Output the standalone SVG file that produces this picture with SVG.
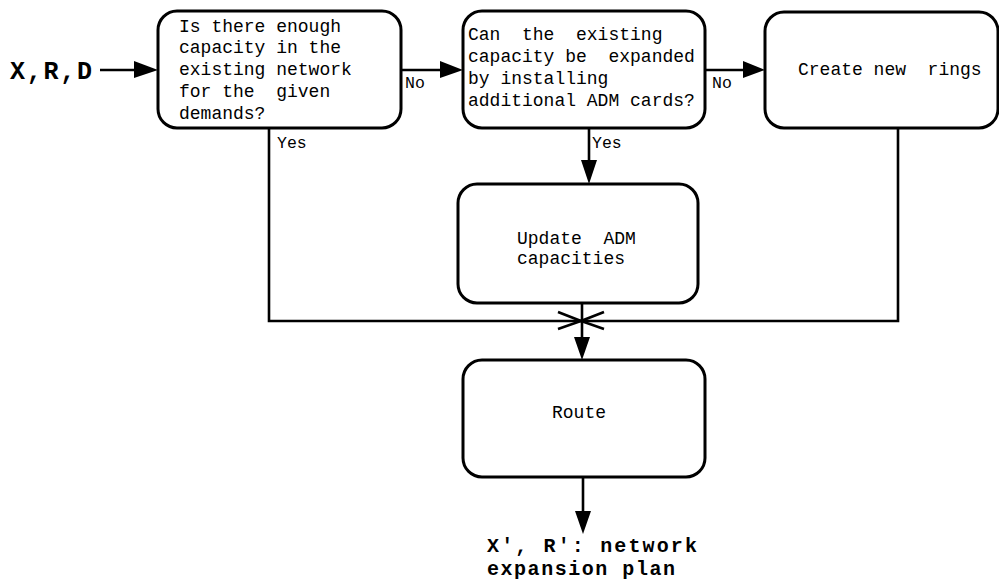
<svg xmlns="http://www.w3.org/2000/svg" width="999" height="586" viewBox="0 0 999 586">
  <style>
    .box { fill: #ffffff; stroke: #000000; stroke-width: 3; }
    .txt { font-family: "Courier New", "Liberation Mono", monospace; font-size: 18px; fill: #000000; white-space: pre; }
    .lbl { font-family: "Courier New", "Liberation Mono", monospace; font-size: 16.5px; fill: #000000; }
    .io { font-family: "Courier New", "Liberation Mono", monospace; font-size: 20px; font-weight: bold; fill: #000000; white-space: pre; }
    .io.big { font-size: 25px; }
    .wire { fill: none; stroke: #000000; stroke-width: 2.6; }
    .head { fill: #000000; stroke: none; }
  </style>

  <!-- connectors -->
  <g id="connectors">
    <!-- input into the capacity check -->
    <line class="wire" x1="100" y1="70" x2="140" y2="70"/>
    <polygon class="head" points="134,61 158,70 134,78"/>
    <!-- No: capacity check -> expansion check -->
    <line class="wire" x1="401" y1="70" x2="445" y2="70"/>
    <polygon class="head" points="440,61 463,70 440,78"/>
    <!-- No: expansion check -> new rings -->
    <line class="wire" x1="705" y1="70" x2="748" y2="70"/>
    <polygon class="head" points="743,61 765,70 743,78"/>
    <!-- Yes: expansion check -> update -->
    <line class="wire" x1="589" y1="128" x2="589" y2="165"/>
    <polygon class="head" points="581,160 589,184 597,160"/>
    <!-- collector loop from capacity check (Yes) and new rings -->
    <polyline class="wire" points="269,128 269,321 898,321 898,128"/>
    <!-- junction arrowheads -->
    <polyline class="wire" points="558,312 581,321 558,329"/>
    <polyline class="wire" points="604,312 581,321 604,329"/>
    <!-- update -> route -->
    <line class="wire" x1="582" y1="303" x2="582" y2="342"/>
    <polygon class="head" points="574,337 582,360 590,337"/>
    <!-- route -> result -->
    <line class="wire" x1="583" y1="477" x2="583" y2="516"/>
    <polygon class="head" points="575,511 583,534 591,511"/>
    <!-- branch labels -->
    <text class="lbl" x="405" y="88">No</text>
    <text class="lbl" x="712" y="88">No</text>
    <text class="lbl" x="277" y="148">Yes</text>
    <text class="lbl" x="592" y="148">Yes</text>
  </g>

  <!-- input -->
  <g id="input">
    <text class="io big" x="10" y="79" textLength="82" lengthAdjust="spacing">X,R,D</text>
  </g>

  <!-- capacity check -->
  <g id="capacity-check">
    <rect class="box" x="158" y="11" width="243" height="117" rx="19"/>
    <text class="txt" x="179" y="32">Is there enough</text>
    <text class="txt" x="179" y="53">capacity in the</text>
    <text class="txt" x="179" y="75">existing network</text>
    <text class="txt" x="179" y="97">for the  given</text>
    <text class="txt" x="179" y="119">demands?</text>
  </g>

  <!-- expansion check -->
  <g id="expansion-check">
    <rect class="box" x="463" y="11" width="242" height="117" rx="19"/>
    <text class="txt" x="468" y="40">Can  the  existing</text>
    <text class="txt" x="468" y="62">capacity be  expanded</text>
    <text class="txt" x="468" y="84">by installing</text>
    <text class="txt" x="468" y="106">additional ADM cards?</text>
  </g>

  <!-- new rings -->
  <g id="new-rings">
    <rect class="box" x="765" y="12" width="233" height="116" rx="19"/>
    <text class="txt" x="798" y="75">Create new  rings</text>
  </g>

  <!-- update ADM capacities -->
  <g id="update">
    <rect class="box" x="458" y="184" width="240" height="119" rx="19"/>
    <text class="txt" x="517" y="244">Update  ADM</text>
    <text class="txt" x="517" y="264">capacities</text>
  </g>

  <!-- route -->
  <g id="route">
    <rect class="box" x="463" y="360" width="242" height="117" rx="19"/>
    <text class="txt" x="552" y="418">Route</text>
  </g>

  <!-- output -->
  <g id="output">
    <text class="io" x="487" y="552" textLength="210" lengthAdjust="spacing">X', R': network</text>
    <text class="io" x="487" y="575" textLength="188" lengthAdjust="spacing">expansion plan</text>
  </g>
</svg>
